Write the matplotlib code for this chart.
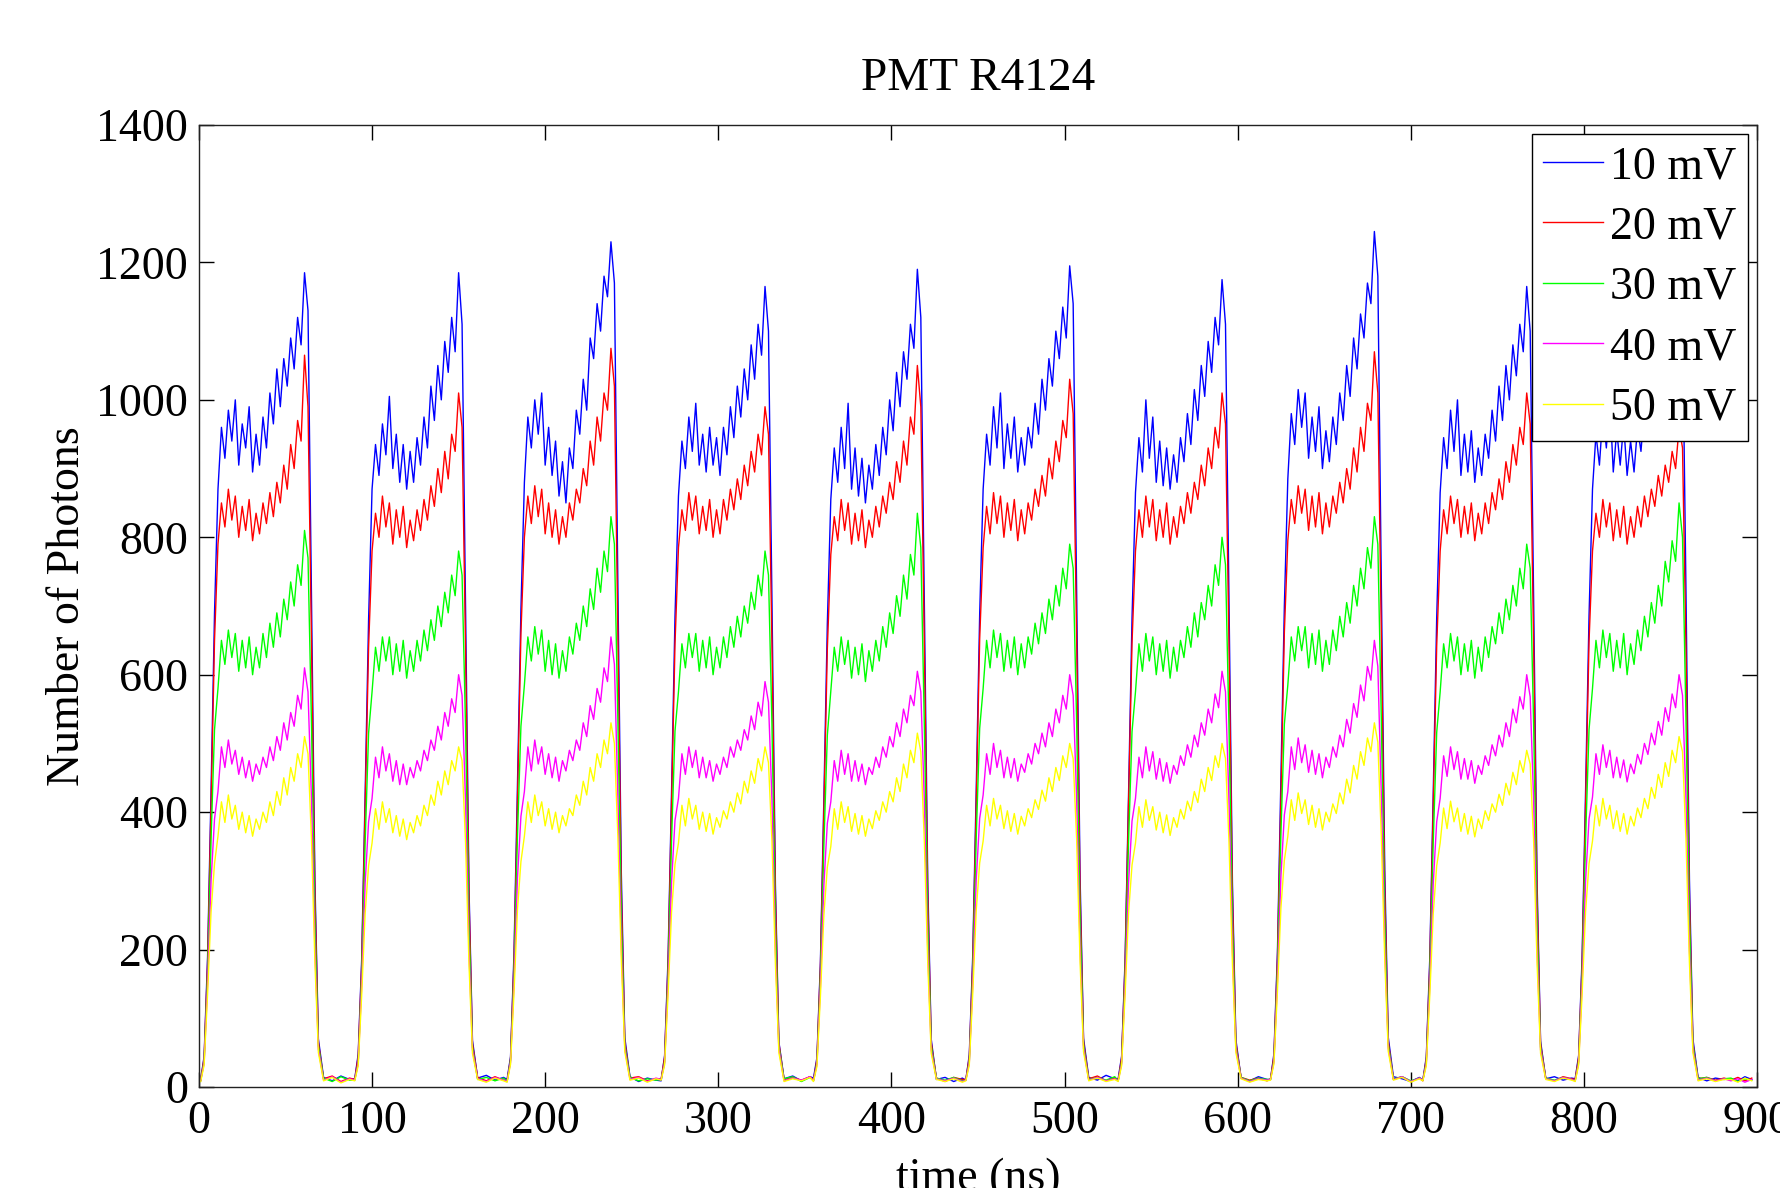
import numpy as np
import matplotlib
matplotlib.use("Agg")
import matplotlib.pyplot as plt

# pulse rise start times (ns) and sample times relative to each rise
PULSE_START = [1, 90, 178, 267, 355, 443, 531, 619, 707, 795]
REL_T = [0, 2, 4, 6, 8] + list(range(10, 63, 2)) + [64, 66, 68, 71, 76, 81, 86]
TAIL_T = [885, 889, 893, 897]

LABELS = ["10 mV", "20 mV", "30 mV", "40 mV", "50 mV"]
COLORS = ["#0000ff", "#ff0000", "#00ff00", "#ff00ff", "#ffff00"]

# photon counts, one row per pulse
SIG_10MV = [
    [10, 45, 190, 430, 690, 870, 960, 915, 985, 940, 1000, 905, 965, 930, 990, 895, 950, 905, 975, 930, 1010, 965, 1045, 990, 1060, 1020, 1090, 1045, 1120, 1080, 1185, 1130, 720, 300, 70, 14, 9, 16, 11],
    [12, 48, 185, 425, 680, 870, 935, 890, 965, 920, 1005, 900, 950, 880, 935, 870, 925, 880, 945, 905, 975, 930, 1020, 970, 1050, 1000, 1085, 1040, 1120, 1070, 1185, 1110, 700, 290, 68, 13, 17, 10, 14],
    [11, 44, 195, 440, 695, 880, 975, 930, 1000, 950, 1010, 905, 960, 890, 940, 860, 910, 850, 930, 900, 985, 950, 1030, 985, 1090, 1060, 1140, 1100, 1180, 1150, 1230, 1170, 730, 310, 72, 15, 8, 13, 10],
    [9, 46, 188, 428, 685, 860, 940, 900, 975, 925, 995, 905, 950, 895, 960, 905, 945, 890, 960, 920, 990, 945, 1020, 975, 1045, 1000, 1080, 1030, 1110, 1065, 1165, 1100, 710, 295, 66, 12, 16, 9, 15],
    [13, 43, 182, 420, 675, 855, 930, 880, 960, 900, 995, 870, 930, 860, 915, 850, 905, 870, 935, 890, 960, 920, 1000, 955, 1040, 990, 1070, 1030, 1110, 1075, 1190, 1120, 715, 300, 70, 11, 14, 8, 13],
    [10, 47, 192, 432, 688, 870, 950, 905, 990, 930, 1010, 900, 965, 915, 975, 895, 945, 905, 960, 930, 995, 950, 1030, 985, 1060, 1020, 1100, 1060, 1135, 1090, 1195, 1140, 725, 305, 71, 14, 10, 17, 12],
    [12, 45, 186, 426, 682, 865, 945, 895, 1000, 915, 975, 880, 940, 875, 930, 870, 920, 880, 945, 910, 980, 935, 1015, 970, 1050, 1005, 1085, 1040, 1120, 1080, 1175, 1110, 712, 298, 69, 13, 9, 15, 11],
    [11, 49, 196, 445, 700, 885, 980, 935, 1015, 960, 1010, 915, 975, 925, 990, 900, 955, 910, 975, 935, 1010, 970, 1050, 1005, 1090, 1045, 1125, 1090, 1170, 1140, 1245, 1180, 735, 315, 73, 15, 12, 8, 14],
    [10, 44, 187, 427, 683, 865, 945, 900, 985, 925, 1000, 890, 950, 895, 955, 880, 930, 890, 950, 915, 985, 940, 1020, 970, 1050, 1000, 1080, 1035, 1110, 1070, 1165, 1100, 708, 296, 67, 12, 15, 10, 13],
    [12, 46, 190, 430, 686, 870, 950, 905, 980, 930, 1000, 895, 955, 905, 965, 890, 940, 895, 960, 925, 990, 945, 1025, 980, 1060, 1015, 1095, 1050, 1130, 1090, 1190, 1120, 720, 302, 70, 14, 9, 13, 11],
]
SIG_20MV = [
    [10, 42, 180, 410, 650, 790, 850, 815, 870, 825, 860, 800, 845, 810, 855, 795, 835, 805, 850, 820, 865, 830, 880, 850, 905, 870, 935, 900, 970, 940, 1065, 990, 650, 280, 65, 12, 16, 8, 13],
    [11, 44, 176, 405, 640, 780, 835, 800, 860, 815, 850, 790, 840, 800, 845, 785, 825, 795, 840, 810, 855, 825, 875, 845, 900, 865, 925, 885, 950, 925, 1010, 960, 640, 275, 63, 14, 9, 15, 10],
    [9, 41, 184, 415, 660, 800, 860, 820, 875, 830, 870, 805, 850, 800, 840, 790, 830, 800, 850, 825, 870, 850, 900, 875, 940, 905, 975, 940, 1010, 985, 1075, 1020, 660, 285, 66, 13, 15, 9, 12],
    [12, 43, 178, 408, 645, 785, 840, 810, 865, 825, 860, 805, 845, 810, 855, 800, 840, 805, 855, 825, 870, 840, 885, 855, 905, 875, 925, 895, 950, 920, 990, 950, 645, 278, 64, 11, 14, 10, 15],
    [10, 40, 175, 402, 638, 775, 830, 795, 855, 810, 850, 790, 835, 795, 840, 785, 825, 800, 845, 815, 860, 835, 880, 855, 910, 880, 940, 905, 975, 950, 1050, 990, 648, 280, 65, 13, 8, 14, 11],
    [11, 43, 181, 412, 652, 785, 845, 805, 865, 820, 860, 800, 850, 810, 855, 795, 840, 805, 850, 825, 870, 845, 890, 860, 915, 885, 940, 910, 970, 945, 1030, 980, 655, 283, 66, 12, 16, 9, 14],
    [10, 42, 179, 409, 646, 780, 840, 800, 860, 815, 855, 795, 840, 800, 850, 790, 830, 800, 845, 820, 865, 835, 880, 855, 905, 875, 930, 900, 960, 930, 1010, 965, 646, 279, 64, 14, 10, 13, 9],
    [12, 45, 186, 418, 662, 795, 855, 820, 875, 835, 870, 810, 860, 815, 865, 805, 850, 815, 860, 835, 880, 850, 900, 870, 930, 895, 960, 925, 995, 970, 1070, 1010, 662, 288, 67, 11, 15, 8, 13],
    [9, 41, 177, 406, 642, 780, 840, 805, 860, 820, 855, 800, 845, 805, 850, 795, 835, 805, 850, 820, 865, 840, 885, 855, 910, 880, 935, 905, 960, 935, 1010, 965, 644, 277, 63, 13, 9, 15, 12],
    [11, 43, 180, 410, 648, 780, 835, 800, 855, 815, 850, 795, 840, 800, 845, 790, 830, 800, 845, 815, 860, 830, 870, 845, 890, 860, 905, 880, 925, 900, 960, 930, 640, 276, 64, 12, 14, 10, 13],
]
SIG_30MV = [
    [9, 38, 165, 360, 520, 580, 650, 615, 665, 625, 660, 605, 650, 610, 655, 600, 640, 610, 660, 625, 675, 640, 690, 655, 710, 680, 735, 700, 760, 730, 810, 770, 530, 240, 60, 13, 8, 15, 10],
    [10, 36, 162, 355, 515, 575, 640, 605, 655, 620, 655, 600, 645, 605, 650, 595, 635, 605, 650, 620, 665, 635, 680, 650, 700, 670, 720, 690, 745, 715, 780, 745, 525, 236, 58, 11, 14, 9, 13],
    [8, 39, 168, 365, 525, 585, 655, 620, 670, 630, 665, 605, 650, 600, 645, 595, 635, 605, 655, 630, 675, 650, 700, 670, 725, 695, 755, 720, 780, 750, 830, 790, 535, 244, 61, 14, 9, 12, 10],
    [11, 37, 164, 358, 518, 575, 645, 610, 660, 625, 660, 605, 650, 610, 655, 600, 640, 610, 655, 625, 670, 640, 685, 655, 700, 675, 720, 695, 745, 715, 780, 745, 528, 238, 59, 12, 15, 8, 14],
    [9, 36, 160, 352, 512, 575, 640, 605, 655, 615, 650, 595, 640, 600, 645, 590, 635, 605, 650, 620, 670, 640, 690, 660, 715, 685, 745, 710, 775, 745, 835, 785, 530, 240, 60, 13, 10, 14, 9],
    [10, 38, 166, 362, 522, 580, 650, 610, 665, 625, 660, 605, 650, 610, 655, 600, 645, 610, 655, 630, 675, 645, 690, 660, 710, 680, 730, 700, 755, 725, 790, 755, 532, 242, 61, 11, 14, 10, 15],
    [9, 37, 163, 357, 517, 575, 645, 605, 660, 620, 655, 600, 645, 605, 650, 595, 640, 605, 650, 625, 670, 640, 690, 655, 705, 680, 730, 700, 760, 730, 800, 760, 527, 238, 59, 14, 9, 13, 11],
    [11, 40, 170, 368, 528, 585, 655, 620, 670, 635, 670, 610, 660, 615, 665, 605, 650, 615, 665, 635, 685, 655, 705, 675, 730, 700, 755, 725, 785, 755, 830, 790, 536, 246, 62, 12, 15, 9, 13],
    [10, 37, 164, 356, 516, 575, 645, 610, 660, 620, 655, 600, 645, 605, 650, 595, 640, 605, 655, 625, 670, 645, 690, 660, 710, 680, 730, 700, 755, 725, 790, 755, 526, 237, 58, 13, 10, 14, 11],
    [9, 38, 166, 360, 520, 580, 650, 610, 665, 625, 660, 605, 650, 610, 660, 600, 645, 615, 665, 635, 685, 655, 705, 675, 730, 700, 765, 735, 795, 765, 850, 800, 534, 243, 61, 12, 14, 9, 12],
]
SIG_40MV = [
    [9, 35, 150, 300, 390, 430, 495, 465, 505, 470, 490, 455, 480, 450, 475, 445, 470, 455, 480, 465, 495, 475, 510, 490, 530, 505, 545, 525, 570, 550, 610, 575, 420, 200, 55, 10, 15, 7, 12],
    [10, 34, 148, 296, 386, 420, 480, 450, 495, 460, 485, 445, 475, 440, 470, 440, 465, 450, 475, 460, 490, 475, 505, 490, 525, 505, 545, 525, 565, 545, 600, 570, 416, 198, 54, 12, 8, 14, 10],
    [8, 36, 152, 304, 394, 430, 495, 460, 505, 470, 495, 455, 485, 450, 480, 445, 475, 460, 490, 475, 505, 490, 530, 510, 555, 535, 580, 560, 610, 590, 655, 615, 424, 203, 56, 11, 14, 8, 13],
    [11, 35, 149, 298, 388, 420, 485, 455, 495, 465, 490, 450, 480, 450, 475, 445, 470, 455, 480, 465, 495, 480, 505, 490, 520, 505, 540, 520, 560, 540, 590, 560, 418, 199, 55, 9, 13, 10, 15],
    [9, 33, 146, 294, 384, 415, 475, 445, 490, 455, 485, 445, 475, 445, 470, 440, 465, 455, 480, 465, 495, 480, 510, 495, 530, 510, 550, 530, 570, 555, 605, 575, 419, 200, 54, 12, 9, 13, 8],
    [10, 35, 151, 301, 391, 425, 485, 455, 500, 465, 490, 450, 480, 450, 478, 445, 470, 458, 485, 470, 500, 485, 515, 495, 530, 510, 550, 530, 570, 550, 600, 570, 421, 201, 56, 10, 14, 9, 12],
    [9, 34, 148, 297, 387, 420, 480, 450, 495, 460, 488, 448, 478, 445, 472, 442, 468, 455, 482, 468, 498, 480, 512, 495, 530, 512, 550, 530, 572, 552, 605, 575, 418, 199, 55, 13, 8, 12, 10],
    [11, 37, 154, 306, 396, 430, 495, 462, 508, 472, 498, 458, 490, 455, 485, 450, 480, 465, 495, 480, 512, 495, 535, 515, 558, 538, 585, 562, 612, 592, 650, 612, 425, 204, 57, 11, 15, 8, 13],
    [10, 34, 147, 296, 386, 420, 482, 452, 495, 462, 488, 448, 478, 448, 475, 442, 468, 455, 482, 468, 498, 482, 512, 495, 530, 510, 550, 530, 568, 550, 600, 568, 417, 198, 54, 12, 9, 14, 11],
    [9, 35, 150, 300, 390, 422, 485, 455, 498, 465, 490, 450, 480, 450, 476, 444, 470, 456, 484, 470, 500, 484, 515, 498, 532, 512, 552, 532, 572, 552, 600, 570, 420, 200, 55, 10, 13, 9, 12],
]
SIG_50MV = [
    [8, 32, 135, 255, 325, 365, 415, 385, 425, 390, 410, 375, 400, 370, 395, 365, 390, 375, 400, 385, 415, 395, 430, 410, 450, 425, 465, 445, 485, 465, 510, 485, 360, 180, 50, 9, 14, 6, 11],
    [9, 31, 133, 252, 322, 355, 405, 375, 415, 385, 405, 370, 395, 365, 390, 360, 385, 370, 395, 380, 410, 395, 425, 410, 445, 425, 460, 440, 475, 460, 495, 475, 356, 178, 49, 11, 7, 13, 9],
    [7, 33, 137, 258, 328, 365, 415, 385, 425, 395, 415, 380, 405, 375, 400, 370, 395, 380, 405, 395, 425, 410, 445, 425, 465, 445, 485, 465, 505, 485, 530, 500, 364, 183, 51, 10, 13, 7, 12],
    [10, 32, 134, 254, 324, 355, 410, 380, 420, 390, 410, 375, 400, 372, 398, 368, 392, 378, 402, 390, 415, 400, 428, 412, 445, 428, 460, 442, 478, 460, 495, 472, 358, 179, 50, 8, 12, 9, 14],
    [8, 30, 132, 250, 320, 350, 405, 375, 415, 385, 408, 372, 398, 368, 395, 365, 390, 376, 402, 388, 415, 400, 430, 415, 450, 430, 470, 450, 490, 472, 515, 488, 359, 180, 49, 11, 8, 12, 7],
    [9, 32, 136, 256, 326, 358, 410, 380, 420, 390, 410, 376, 402, 372, 398, 368, 394, 380, 405, 392, 418, 404, 432, 416, 450, 430, 465, 446, 482, 465, 500, 478, 361, 181, 51, 9, 13, 8, 11],
    [8, 31, 134, 253, 323, 355, 408, 378, 418, 388, 408, 374, 400, 370, 396, 366, 392, 378, 404, 390, 416, 402, 430, 414, 448, 430, 465, 446, 482, 465, 500, 478, 358, 179, 50, 12, 7, 11, 9],
    [10, 34, 139, 260, 330, 365, 418, 388, 428, 398, 418, 382, 410, 378, 405, 374, 400, 386, 412, 398, 428, 412, 448, 428, 468, 448, 488, 468, 508, 488, 530, 502, 365, 184, 52, 10, 14, 7, 12],
    [9, 31, 133, 252, 322, 355, 406, 376, 416, 386, 406, 372, 398, 368, 394, 364, 390, 376, 402, 388, 412, 400, 426, 410, 442, 425, 458, 440, 475, 458, 490, 470, 357, 178, 49, 11, 8, 13, 10],
    [8, 32, 135, 255, 325, 358, 410, 380, 420, 390, 410, 376, 402, 372, 398, 368, 394, 380, 406, 392, 420, 405, 436, 420, 455, 436, 472, 452, 490, 472, 510, 488, 360, 180, 50, 9, 12, 8, 11],
]
TAIL = [
    [12, 9, 15, 11],
    [10, 14, 9, 13],
    [13, 8, 12, 10],
    [9, 12, 7, 11],
    [11, 7, 13, 9],
]
SERIES = [SIG_10MV, SIG_20MV, SIG_30MV, SIG_40MV, SIG_50MV]

plt.rcParams["font.family"] = ["Liberation Serif", "DejaVu Serif"]
plt.rcParams["font.size"] = 33

fig = plt.figure(figsize=(17.81, 11.88), dpi=100)
ax = fig.add_axes([0.1117, 0.085, 0.8748, 0.8098])

for sig, tail, color, label in zip(SERIES, TAIL, COLORS, LABELS):
    t = np.concatenate([np.array(REL_T) + s for s in PULSE_START] + [TAIL_T])
    y = np.concatenate([np.array(row) for row in sig] + [tail])
    ax.plot(t, y, color=color, lw=1.0, label=label)

ax.set_xlim(0, 900)
ax.set_ylim(0, 1400)
ax.set_xticks(range(0, 901, 100))
ax.set_yticks(range(0, 1401, 200))
ax.tick_params(direction="in", length=11, width=1, top=True, right=True)
ax.tick_params(axis="x", pad=10)
ax.tick_params(axis="y", pad=8)
for sp in ax.spines.values():
    sp.set_linewidth(1)
    sp.set_color("#222222")

ax.set_title("PMT R4124", fontsize=34, pad=25)
ax.set_xlabel("time (ns)", labelpad=10)
ax.set_ylabel("Number of Photons", labelpad=5)

leg = ax.legend(loc="upper right", fancybox=False, framealpha=1, edgecolor="black",
                handlelength=1.3, handletextpad=0.15, labelspacing=0.39,
                borderaxespad=0.2, borderpad=0.25)
leg.get_frame().set_linewidth(1)

fig.savefig("out.png", dpi=100)
